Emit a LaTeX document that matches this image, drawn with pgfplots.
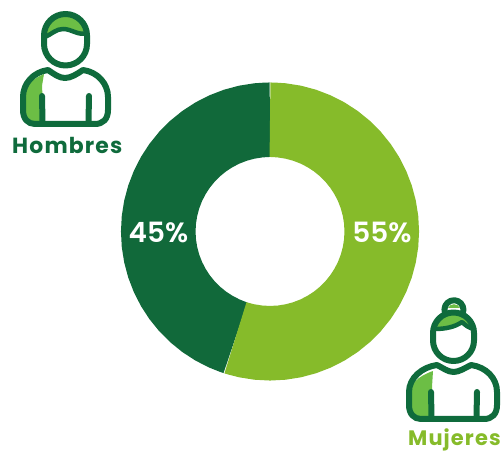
\documentclass[border=0pt]{standalone}
\usepackage{pgfplots}
\pgfplotsset{compat=1.18}
\usepackage{fontspec}
\setmainfont{Poppins}
\newfontfamily\semi{Poppins SemiBold}
\newfontfamily\lab[LetterSpace=5.3]{Poppins}
\definecolor{dk}{HTML}{11693A}
\definecolor{lt}{HTML}{86BB2A}
\definecolor{ic}{HTML}{6CBE45}
\definecolor{ln}{HTML}{0F6B3C}
\begin{document}
\begin{tikzpicture}[x=1bp,y=1bp]
\path[use as bounding box] (0,0) rectangle (504,451);
\begin{axis}[at={(0,0)},anchor=south west,scale only axis,width=504bp,height=451bp,
  xmin=-270,xmax=234,ymin=-219.5,ymax=231.5,hide axis,clip=false]
% 45 % = 162 degrees, 55 % = 198 degrees, radius of the ring's middle 111.75
\addplot[data cs=polar,dk,line width=74.5bp,line join=miter,line cap=butt,mark=none] coordinates {
(-108,111.75)(-108.3,111.75)(-109.5,111.75)(-114,111.75)(-120,111.75)(-126,111.75)(-132,111.75)(-138,111.75)(-144,111.75)(-150,111.75)(-156,111.75)(-162,111.75)(-168,111.75)(-174,111.75)(-180,111.75)(-186,111.75)(-192,111.75)(-198,111.75)(-204,111.75)(-210,111.75)(-216,111.75)(-222,111.75)(-228,111.75)(-234,111.75)(-240,111.75)(-246,111.75)(-252,111.75)(-258,111.75)(-264,111.75)(-268.5,111.75)(-269.7,111.75)(-270,111.75)};
\addplot[data cs=polar,lt,line width=74.5bp,line join=miter,line cap=butt,mark=none] coordinates {
(90,111.75)(89.7,111.75)(88.5,111.75)(84,111.75)(78,111.75)(72,111.75)(66,111.75)(60,111.75)(54,111.75)(48,111.75)(42,111.75)(36,111.75)(30,111.75)(24,111.75)(18,111.75)(12,111.75)(6,111.75)(0,111.75)(-6,111.75)(-12,111.75)(-18,111.75)(-24,111.75)(-30,111.75)(-36,111.75)(-42,111.75)(-48,111.75)(-54,111.75)(-60,111.75)(-66,111.75)(-72,111.75)(-78,111.75)(-84,111.75)(-90,111.75)(-96,111.75)(-102,111.75)(-106.5,111.75)(-107.7,111.75)(-108,111.75)};
\node[white,font=\fontsize{28}{28}\selectfont\semi] at (axis cs:112,-0.5) {55\%};
\node[white,font=\fontsize{28}{28}\selectfont\semi] at (axis cs:-111.5,-0.5) {45\%};
\end{axis}
\begin{scope}[shift={(0,451)},y=-1bp,x=1bp]
 % Hombre
 \fill[ic] (42,86) -- (44,74) .. controls (30,80) and (23,88) .. (23,100) -- (23,113) .. controls (23,120) and (28,124) .. (35,124) -- (44,124) -- cycle;
 \fill[ic] (46,37) .. controls (46,22) and (56,14) .. (65.5,14) .. controls (76,14) and (83,20) .. (87,33) .. controls (78,36) and (72,29) .. (63,29) .. controls (56,29) and (52,34) .. (46,37) -- cycle;
 \begin{scope}[draw=ln,line width=6bp,line join=round,line cap=round]
 \draw (44,35.5) arc[start angle=180,end angle=360,radius=21.5] -- (87,44) arc[start angle=0,end angle=180,radius=21.5] -- cycle;
 \draw[line width=4.5bp] (45,37) .. controls (52,34) and (56,29) .. (63,29) .. controls (72,29) and (78,36) .. (87,33);
 \draw (48,70) .. controls (54,74) and (59,78) .. (65,78) .. controls (71,78) and (77,74) .. (83,70) .. controls (98,72) and (108,84) .. (108,97) -- (108,110) .. controls (108,119) and (103,124) .. (95,124) -- (35,124) .. controls (28,124) and (23,119) .. (23,110) -- (23,97) .. controls (23,84) and (33,72) .. (48,70) -- cycle;
 \draw (42,96) -- (42.5,122);
 \draw (89,96) -- (88.5,122);
 \end{scope}
 \node[ln,anchor=base west,inner sep=0pt,font=\fontsize{22}{22}\selectfont\lab\bfseries] at (12,154) {Hombres};
 % Mujer
 \fill[ic] (432,387) -- (433,371) .. controls (418,376) and (409,385) .. (409,395) -- (409,407) .. controls (409,414) and (414,419) .. (421,419) -- (433,419) -- cycle;
 \fill[ic] (436,328) .. controls (437,318) and (445,312) .. (453.5,312) .. controls (462,312) and (470,318) .. (473,328) .. controls (468,326) and (464,324) .. (462,322) .. controls (458,326) and (450,327) .. (436,328) -- cycle;
 \fill[ic] (448,308) .. controls (450,303) and (458,303) .. (460,308) -- cycle;
 \begin{scope}[draw=ln,line width=6bp,line join=round,line cap=round]
 \draw (433,333) arc[start angle=180,end angle=360,radius=20.5] -- (474,340.5) arc[start angle=0,end angle=180,radius=20.5] -- cycle;
 \draw (445,313) arc[start angle=160,end angle=380,radius=9.5];
 \draw[line width=4.5bp] (435,329) .. controls (445,329) and (455,327) .. (462,322) .. controls (465,325) and (469,328) .. (474,329);
 \draw (437,365) .. controls (443,368) and (448,372) .. (453.5,372) .. controls (459,372) and (465,368) .. (471,365) .. controls (486,367) and (497,378) .. (497,392) -- (497,405) .. controls (497,414) and (492,419) .. (484,419) -- (421,419) .. controls (414,419) and (409,414) .. (409,405) -- (409,392) .. controls (409,378) and (422,367) .. (437,365) -- cycle;
 \draw (431,392) -- (431.5,417);
 \draw (477,392) -- (476.5,417);
 \end{scope}
 \node[lt,anchor=base west,inner sep=0pt,font=\fontsize{21}{21}\selectfont\lab\bfseries] at (408,446) {Mujeres};
\end{scope}
\end{tikzpicture}
\end{document}
